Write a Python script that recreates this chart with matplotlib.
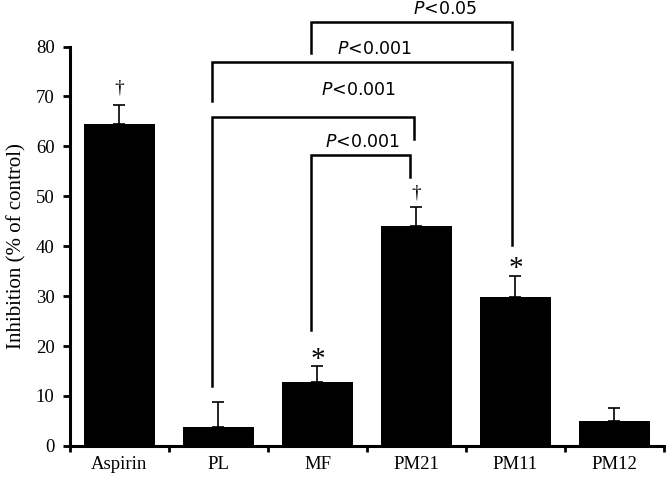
import matplotlib
matplotlib.use("Agg")
import matplotlib.pyplot as plt
import numpy as np

# data
groups = ["Aspirin", "PL", "MF", "PM21", "PM11", "PM12"]
inhibition = [64.5, 3.8, 12.9, 44.0, 29.8, 5.0]
err_upper = [3.7, 4.9, 3.2, 3.9, 4.3, 2.6]
marks = ["\u2020", "", "*", "\u2020", "*", ""]
mark_y = [71.6, 0, 19.0, 50.6, 37.2, 0]

# significance brackets: (left group, right group, bar height, left end, right end, label)
brackets = [
    (2, 4, 84.9, 78.8, 79.6, "<0.05"),
    (1, 4, 77.0, 69.0, 40.2, "<0.001"),
    (1, 3, 65.8, 12.0, 61.4, "<0.001"),
    (2, 3, 58.2, 23.2, 53.8, "<0.001"),
]
label_pos = [(3.29, 87.6), (2.58, 79.5), (2.41, 71.2), (2.46, 60.9)]
leg_shift = [(-0.07, -0.04), (-0.07, -0.04), (-0.07, -0.02), (-0.07, -0.07)]

serif = "Liberation Serif"

fig = plt.figure(figsize=(6.66, 4.8), dpi=100)
ax = fig.add_axes([0.105, 0.071, 0.892, 0.832])

x = np.arange(len(groups))
ax.bar(x, inhibition, width=0.71, color="black",
       yerr=[np.zeros(len(groups)), err_upper],
       error_kw=dict(ecolor="black", elinewidth=1.2, capsize=4, capthick=1.2))

for xi, m, my in zip(x, marks, mark_y):
    if m == "*":
        # serif asterisk sits high in its box, nudge it down
        ax.text(xi, my - 1.8, m, ha="center", va="center", fontsize=21, family=serif)
    elif m:
        ax.text(xi, my, m, ha="center", va="center", fontsize=14, family=serif)

for (l, r, h, le, re, lab), (tx, ty), (dl, dr) in zip(brackets, label_pos, leg_shift):
    xl, xr = l + dl, r + dr
    ax.plot([xl, xl, xr, xr], [le, h, h, re], color="black", lw=1.8,
            clip_on=False, solid_joinstyle="miter")
    ax.text(tx, ty, r"$\it{P}$" + lab, ha="center", va="center", fontsize=12.5,
            family="DejaVu Sans", clip_on=False)

ax.set_xlim(-0.5, len(groups) - 0.5)
ax.set_ylim(0, 80)
ax.set_yticks(np.arange(0, 81, 10))
ax.set_xticks(x)
ax.set_xticklabels(groups, family=serif, fontsize=13.5)
ax.set_xticks(np.arange(-0.5, len(groups), 1), minor=True)
ax.tick_params(axis="x", which="major", length=0, pad=7)
ax.tick_params(axis="x", which="minor", length=4, width=2, direction="out")
ax.tick_params(axis="y", length=5, width=2, direction="out", labelsize=13.5, pad=6)
for t in ax.get_yticklabels():
    t.set_family(serif)
ax.set_ylabel("Inhibition (% of control)", family=serif, fontsize=15, labelpad=7)

for side in ["top", "right"]:
    ax.spines[side].set_visible(False)
for side in ["left", "bottom"]:
    ax.spines[side].set_linewidth(2.2)

fig.savefig("out.png", dpi=100)
